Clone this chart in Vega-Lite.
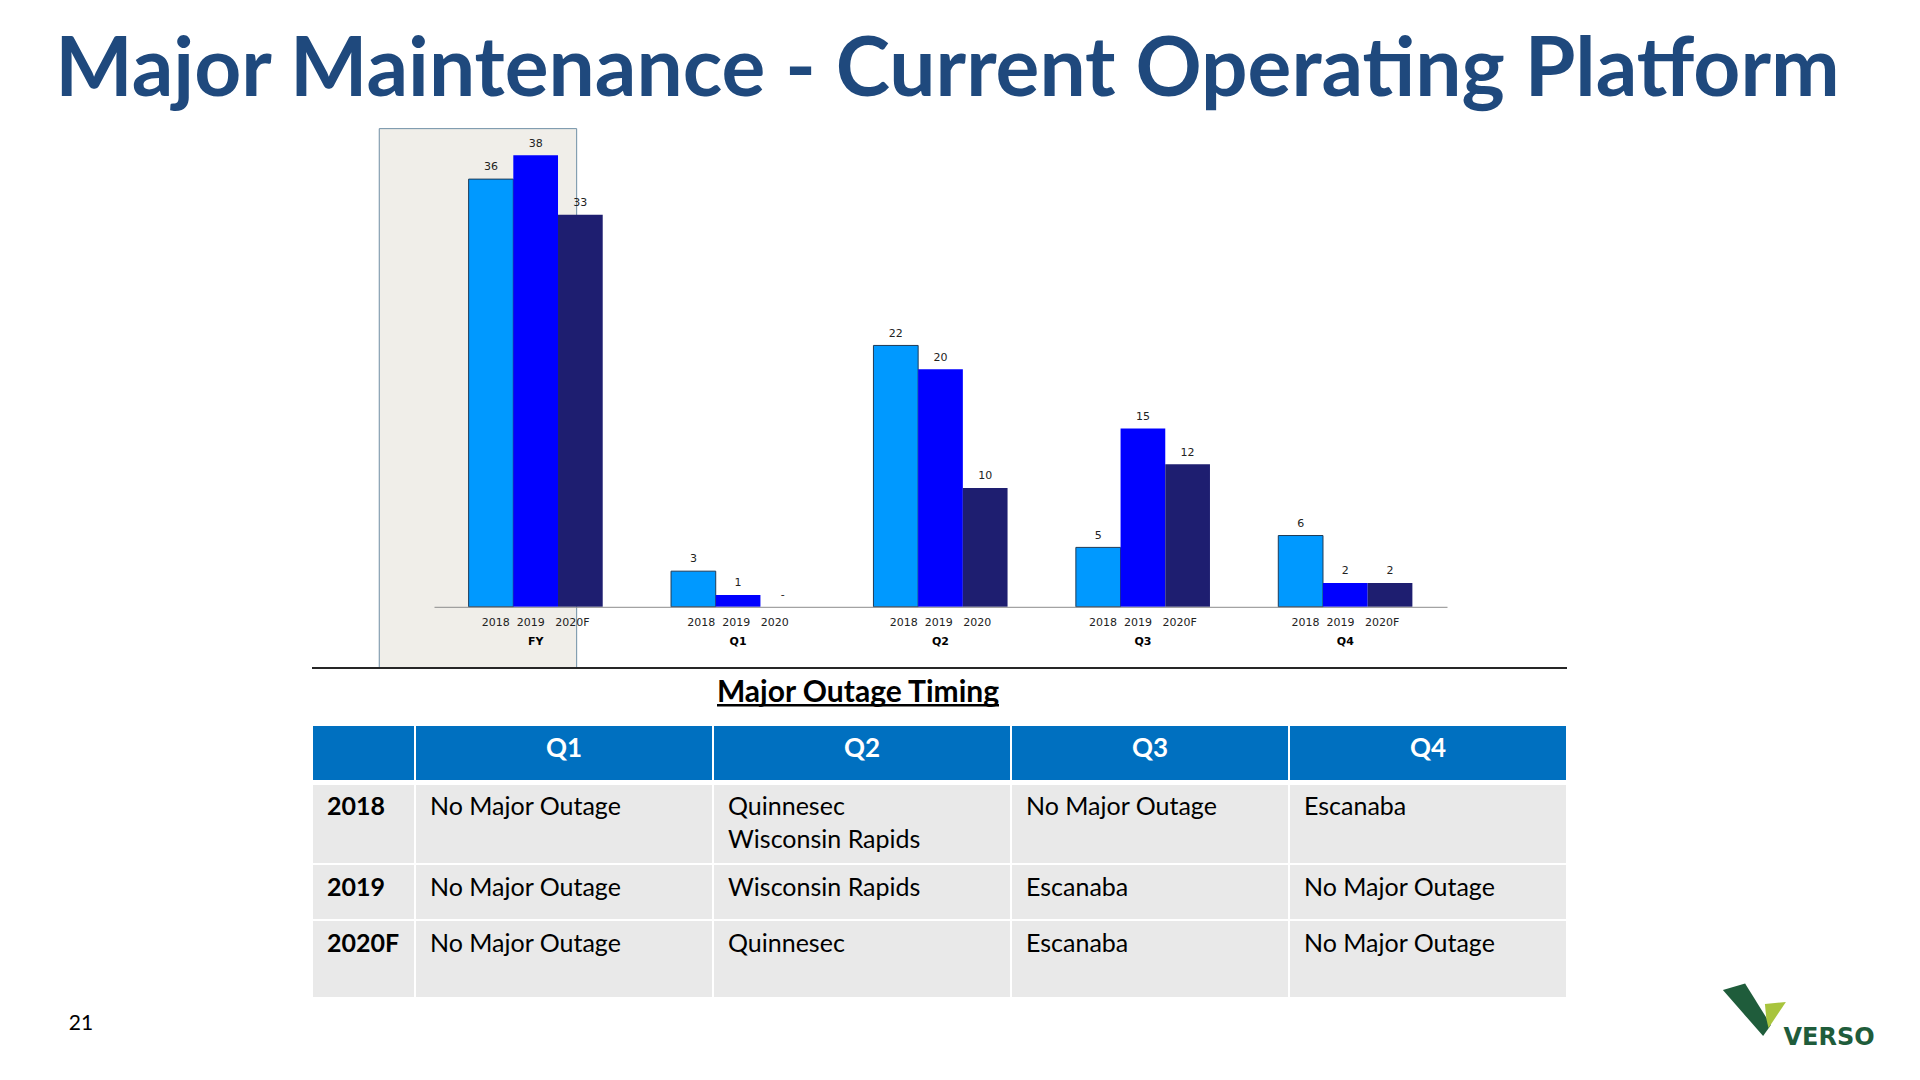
{
  "$schema": "https://vega.github.io/schema/vega-lite/v6.json",
  "width": 1920,
  "height": 1080,
  "autosize": "none",
  "padding": 0,
  "background": "#ffffff",
  "config": {"view": {"stroke": null}, "axis": {"grid": false}},
  "datasets": {
    "bars": [
      {"period": "FY", "series": "2018", "value": 36},
      {"period": "FY", "series": "2019", "value": 38},
      {"period": "FY", "series": "2020F", "value": 33},
      {"period": "Q1", "series": "2018", "value": 3},
      {"period": "Q1", "series": "2019", "value": 1},
      {"period": "Q1", "series": "2020F", "value": 0},
      {"period": "Q2", "series": "2018", "value": 22},
      {"period": "Q2", "series": "2019", "value": 20},
      {"period": "Q2", "series": "2020F", "value": 10},
      {"period": "Q3", "series": "2018", "value": 5},
      {"period": "Q3", "series": "2019", "value": 15},
      {"period": "Q3", "series": "2020F", "value": 12},
      {"period": "Q4", "series": "2018", "value": 6},
      {"period": "Q4", "series": "2019", "value": 2},
      {"period": "Q4", "series": "2020F", "value": 2}
    ],
    "periods": [
      {"period": "FY", "years": "2018\u00a0\u00a02019\u00a0\u00a0\u00a02020F"},
      {"period": "Q1", "years": "2018\u00a0\u00a02019\u00a0\u00a0\u00a02020"},
      {"period": "Q2", "years": "2018\u00a0\u00a02019\u00a0\u00a0\u00a02020"},
      {"period": "Q3", "years": "2018\u00a0\u00a02019\u00a0\u00a0\u00a02020F"},
      {"period": "Q4", "years": "2018\u00a0\u00a02019\u00a0\u00a0\u00a02020F"}
    ],
    "table": [
      {"row": "Header", "col": "Year", "text": ""},
      {"row": "Header", "col": "Q1", "text": "Q1"},
      {"row": "Header", "col": "Q2", "text": "Q2"},
      {"row": "Header", "col": "Q3", "text": "Q3"},
      {"row": "Header", "col": "Q4", "text": "Q4"},
      {"row": "2018", "col": "Year", "text": "2018"},
      {"row": "2018", "col": "Q1", "text": "No Major Outage"},
      {"row": "2018", "col": "Q2", "text": "Quinnesec\nWisconsin Rapids"},
      {"row": "2018", "col": "Q3", "text": "No Major Outage"},
      {"row": "2018", "col": "Q4", "text": "Escanaba"},
      {"row": "2019", "col": "Year", "text": "2019"},
      {"row": "2019", "col": "Q1", "text": "No Major Outage"},
      {"row": "2019", "col": "Q2", "text": "Wisconsin Rapids"},
      {"row": "2019", "col": "Q3", "text": "Escanaba"},
      {"row": "2019", "col": "Q4", "text": "No Major Outage"},
      {"row": "2020F", "col": "Year", "text": "2020F"},
      {"row": "2020F", "col": "Q1", "text": "No Major Outage"},
      {"row": "2020F", "col": "Q2", "text": "Quinnesec"},
      {"row": "2020F", "col": "Q3", "text": "Escanaba"},
      {"row": "2020F", "col": "Q4", "text": "No Major Outage"}
    ]
  },
  "layer": [
    {
      "data": {"values": [{"title": "Major Maintenance - Current Operating Platform"}]},
      "mark": {"type": "text", "font": "Lato", "fontWeight": "bold", "fontSize": 82, "fill": "#1F497D", "baseline": "alphabetic", "align": "center"},
      "encoding": {
        "x": {"field": "title", "type": "nominal", "scale": {"type": "band", "range": [0, 1895], "paddingInner": 0, "paddingOuter": 0}, "axis": null},
        "y": {"field": "title", "type": "nominal", "scale": {"type": "band", "range": [91, 101], "paddingInner": 0, "paddingOuter": 0}, "axis": null},
        "text": {"field": "title"}
      }
    },
    {
      "data": {"name": "bars"},
      "encoding": {
        "x": {
          "field": "period", "type": "nominal", "sort": ["FY", "Q1", "Q2", "Q3", "Q4"],
          "scale": {"type": "band", "range": [434, 1447], "paddingInner": 0.3375, "paddingOuter": 0.171},
          "axis": {"orient": "bottom", "offset": -473.2, "zindex": 1, "title": null, "ticks": false, "tickSize": 0, "labelPadding": 29, "labelAngle": 0, "labelFont": "DejaVu Sans", "labelFontWeight": "bold", "labelFontSize": 11, "labelColor": "#000000", "domainColor": "#8C8C8C", "domainWidth": 1}
        }
      },
      "layer": [
        {
          "data": {"values": [{"period": "FY"}]},
          "mark": {"type": "bar", "width": 197.4, "xOffset": -57.7, "fill": "#F0EEE9", "stroke": "#6F8FA5", "strokeWidth": 1},
          "encoding": {
            "y": {"datum": 40.25, "type": "quantitative", "scale": {"domain": [0, 40], "range": [606.8, 131.6]}, "axis": null},
            "y2": {"datum": -5.15}
          }
        },
        {
          "mark": {"type": "bar", "strokeWidth": 1},
          "encoding": {
            "xOffset": {"field": "series", "type": "nominal", "sort": ["2018", "2019", "2020F"], "scale": {"paddingInner": 0, "paddingOuter": 0}},
            "y": {"field": "value", "type": "quantitative", "scale": {"domain": [0, 40], "range": [606.8, 131.6]}, "axis": null},
            "fill": {"field": "series", "type": "nominal", "scale": {"domain": ["2018", "2019", "2020F"], "range": ["#0099FF", "#0000FF", "#1E1E70"]}, "legend": null},
            "stroke": {"condition": {"test": "datum.series === '2018'", "value": "#1F3B57"}, "value": null}
          }
        },
        {
          "transform": [{"calculate": "datum.value === 0 ? '-' : format(datum.value, 'd')", "as": "label"}],
          "mark": {"type": "text", "font": "DejaVu Sans", "fontSize": 11, "fill": "#222222", "baseline": "alphabetic", "dy": -8.7},
          "encoding": {
            "xOffset": {"field": "series", "type": "nominal", "sort": ["2018", "2019", "2020F"], "scale": {"paddingInner": 0, "paddingOuter": 0}},
            "y": {"field": "value", "type": "quantitative", "scale": {"domain": [0, 40], "range": [606.8, 131.6]}, "axis": null},
            "text": {"field": "label"}
          }
        },
        {
          "data": {"name": "periods"},
          "mark": {"type": "text", "font": "DejaVu Sans", "fontSize": 11, "fill": "#222222", "baseline": "middle", "dy": 16},
          "encoding": {
            "y": {"datum": 0, "type": "quantitative", "scale": {"domain": [0, 40], "range": [606.8, 131.6]}, "axis": null},
            "text": {"field": "years"}
          }
        }
      ]
    },
    {
      "data": {"values": [{"section": "Major Outage Timing"}]},
      "mark": {"type": "rect", "fill": "#262626"},
      "encoding": {
        "x": {"field": "section", "type": "nominal", "scale": {"type": "band", "range": [312, 1567], "paddingInner": 0, "paddingOuter": 0}, "axis": null},
        "y": {"field": "section", "type": "nominal", "scale": {"type": "band", "range": [667, 669], "paddingInner": 0, "paddingOuter": 0}, "axis": null}
      }
    },
    {
      "data": {"values": [{"section": "Major Outage Timing"}]},
      "encoding": {
        "x": {"field": "section", "type": "nominal", "scale": {"type": "band", "range": [717, 999], "paddingInner": 0, "paddingOuter": 0}, "axis": null},
        "y": {"field": "section", "type": "nominal", "scale": {"type": "band", "range": [704, 706.5], "paddingInner": 0, "paddingOuter": 0}, "axis": null}
      },
      "layer": [
        {"mark": {"type": "rect", "fill": "#000000"}},
        {"mark": {"type": "text", "font": "Lato", "fontWeight": "bold", "fontSize": 30, "fill": "#000000", "baseline": "alphabetic", "dy": -3.5}, "encoding": {"text": {"field": "section"}}}
      ]
    },
    {
      "data": {"name": "table"},
      "transform": [{"filter": "datum.col === 'Year'"}],
      "encoding": {
        "x": {"field": "col", "type": "nominal", "scale": {"type": "band", "range": [312, 415], "paddingInner": 0, "paddingOuter": 0}, "axis": null}
      },
      "layer": [
        {
          "transform": [{"filter": "datum.row === 'Header'"}],
          "encoding": {"y": {"field": "row", "type": "nominal", "scale": {"type": "band", "range": [725, 781], "paddingInner": 0, "paddingOuter": 0}, "axis": null}},
          "mark": {"type": "rect", "fill": "#0070C0", "stroke": "#FFFFFF", "strokeWidth": 2}
        },
        {
          "transform": [{"filter": "datum.row === '2018'"}],
          "encoding": {"y": {"field": "row", "type": "nominal", "scale": {"type": "band", "range": [784, 864], "paddingInner": 0, "paddingOuter": 0}, "axis": null}},
          "layer": [
            {"mark": {"type": "rect", "fill": "#E9E9E9", "stroke": "#FFFFFF", "strokeWidth": 2}},
            {"mark": {"type": "text", "font": "Lato", "fontWeight": "bold", "fontSize": 25, "fill": "#000000", "align": "left", "baseline": "alphabetic", "dx": 15, "dy": 31},
             "encoding": {"x": {"field": "col", "type": "nominal", "bandPosition": 0}, "y": {"field": "row", "type": "nominal", "bandPosition": 0}, "text": {"field": "text"}}}
          ]
        },
        {
          "transform": [{"filter": "datum.row === '2019'"}],
          "encoding": {"y": {"field": "row", "type": "nominal", "scale": {"type": "band", "range": [864, 920], "paddingInner": 0, "paddingOuter": 0}, "axis": null}},
          "layer": [
            {"mark": {"type": "rect", "fill": "#E9E9E9", "stroke": "#FFFFFF", "strokeWidth": 2}},
            {"mark": {"type": "text", "font": "Lato", "fontWeight": "bold", "fontSize": 25, "fill": "#000000", "align": "left", "baseline": "alphabetic", "dx": 15, "dy": 32},
             "encoding": {"x": {"field": "col", "type": "nominal", "bandPosition": 0}, "y": {"field": "row", "type": "nominal", "bandPosition": 0}, "text": {"field": "text"}}}
          ]
        },
        {
          "transform": [{"filter": "datum.row === '2020F'"}],
          "encoding": {"y": {"field": "row", "type": "nominal", "scale": {"type": "band", "range": [920, 998], "paddingInner": 0, "paddingOuter": 0}, "axis": null}},
          "layer": [
            {"mark": {"type": "rect", "fill": "#E9E9E9", "stroke": "#FFFFFF", "strokeWidth": 2}},
            {"mark": {"type": "text", "font": "Lato", "fontWeight": "bold", "fontSize": 25, "fill": "#000000", "align": "left", "baseline": "alphabetic", "dx": 15, "dy": 32},
             "encoding": {"x": {"field": "col", "type": "nominal", "bandPosition": 0}, "y": {"field": "row", "type": "nominal", "bandPosition": 0}, "text": {"field": "text"}}}
          ]
        }
      ],
      "resolve": {"scale": {"y": "independent"}}
    },
    {
      "data": {"name": "table"},
      "transform": [{"filter": "datum.col === 'Q1' || datum.col === 'Q2'"}],
      "encoding": {
        "x": {"field": "col", "type": "nominal", "sort": ["Q1", "Q2"], "scale": {"type": "band", "range": [415, 1011], "paddingInner": 0, "paddingOuter": 0}, "axis": null}
      },
      "layer": [
        {
          "transform": [{"filter": "datum.row === 'Header'"}],
          "encoding": {"y": {"field": "row", "type": "nominal", "scale": {"type": "band", "range": [725, 781], "paddingInner": 0, "paddingOuter": 0}, "axis": null}},
          "layer": [
            {"mark": {"type": "rect", "fill": "#0070C0", "stroke": "#FFFFFF", "strokeWidth": 2}},
            {"mark": {"type": "text", "font": "Lato", "fontWeight": "bold", "fontSize": 26, "fill": "#FFFFFF", "baseline": "alphabetic", "dy": 4.4}, "encoding": {"text": {"field": "text"}}}
          ]
        },
        {
          "transform": [{"filter": "datum.row === '2018'"}],
          "encoding": {"y": {"field": "row", "type": "nominal", "scale": {"type": "band", "range": [784, 864], "paddingInner": 0, "paddingOuter": 0}, "axis": null}},
          "layer": [
            {"mark": {"type": "rect", "fill": "#E9E9E9", "stroke": "#FFFFFF", "strokeWidth": 2}},
            {"mark": {"type": "text", "font": "Lato", "fontSize": 25, "fill": "#000000", "align": "left", "baseline": "alphabetic", "dx": 15, "dy": 31, "lineBreak": "\n", "lineHeight": 33},
             "encoding": {"x": {"field": "col", "type": "nominal", "sort": ["Q1", "Q2"], "bandPosition": 0}, "y": {"field": "row", "type": "nominal", "bandPosition": 0}, "text": {"field": "text"}}}
          ]
        },
        {
          "transform": [{"filter": "datum.row === '2019'"}],
          "encoding": {"y": {"field": "row", "type": "nominal", "scale": {"type": "band", "range": [864, 920], "paddingInner": 0, "paddingOuter": 0}, "axis": null}},
          "layer": [
            {"mark": {"type": "rect", "fill": "#E9E9E9", "stroke": "#FFFFFF", "strokeWidth": 2}},
            {"mark": {"type": "text", "font": "Lato", "fontSize": 25, "fill": "#000000", "align": "left", "baseline": "alphabetic", "dx": 15, "dy": 32},
             "encoding": {"x": {"field": "col", "type": "nominal", "sort": ["Q1", "Q2"], "bandPosition": 0}, "y": {"field": "row", "type": "nominal", "bandPosition": 0}, "text": {"field": "text"}}}
          ]
        },
        {
          "transform": [{"filter": "datum.row === '2020F'"}],
          "encoding": {"y": {"field": "row", "type": "nominal", "scale": {"type": "band", "range": [920, 998], "paddingInner": 0, "paddingOuter": 0}, "axis": null}},
          "layer": [
            {"mark": {"type": "rect", "fill": "#E9E9E9", "stroke": "#FFFFFF", "strokeWidth": 2}},
            {"mark": {"type": "text", "font": "Lato", "fontSize": 25, "fill": "#000000", "align": "left", "baseline": "alphabetic", "dx": 15, "dy": 32},
             "encoding": {"x": {"field": "col", "type": "nominal", "sort": ["Q1", "Q2"], "bandPosition": 0}, "y": {"field": "row", "type": "nominal", "bandPosition": 0}, "text": {"field": "text"}}}
          ]
        }
      ],
      "resolve": {"scale": {"y": "independent"}}
    },
    {
      "data": {"name": "table"},
      "transform": [{"filter": "datum.col === 'Q3' || datum.col === 'Q4'"}],
      "encoding": {
        "x": {"field": "col", "type": "nominal", "sort": ["Q3", "Q4"], "scale": {"type": "band", "range": [1011, 1567], "paddingInner": 0, "paddingOuter": 0}, "axis": null}
      },
      "layer": [
        {
          "transform": [{"filter": "datum.row === 'Header'"}],
          "encoding": {"y": {"field": "row", "type": "nominal", "scale": {"type": "band", "range": [725, 781], "paddingInner": 0, "paddingOuter": 0}, "axis": null}},
          "layer": [
            {"mark": {"type": "rect", "fill": "#0070C0", "stroke": "#FFFFFF", "strokeWidth": 2}},
            {"mark": {"type": "text", "font": "Lato", "fontWeight": "bold", "fontSize": 26, "fill": "#FFFFFF", "baseline": "alphabetic", "dy": 4.4}, "encoding": {"text": {"field": "text"}}}
          ]
        },
        {
          "transform": [{"filter": "datum.row === '2018'"}],
          "encoding": {"y": {"field": "row", "type": "nominal", "scale": {"type": "band", "range": [784, 864], "paddingInner": 0, "paddingOuter": 0}, "axis": null}},
          "layer": [
            {"mark": {"type": "rect", "fill": "#E9E9E9", "stroke": "#FFFFFF", "strokeWidth": 2}},
            {"mark": {"type": "text", "font": "Lato", "fontSize": 25, "fill": "#000000", "align": "left", "baseline": "alphabetic", "dx": 15, "dy": 31},
             "encoding": {"x": {"field": "col", "type": "nominal", "sort": ["Q3", "Q4"], "bandPosition": 0}, "y": {"field": "row", "type": "nominal", "bandPosition": 0}, "text": {"field": "text"}}}
          ]
        },
        {
          "transform": [{"filter": "datum.row === '2019'"}],
          "encoding": {"y": {"field": "row", "type": "nominal", "scale": {"type": "band", "range": [864, 920], "paddingInner": 0, "paddingOuter": 0}, "axis": null}},
          "layer": [
            {"mark": {"type": "rect", "fill": "#E9E9E9", "stroke": "#FFFFFF", "strokeWidth": 2}},
            {"mark": {"type": "text", "font": "Lato", "fontSize": 25, "fill": "#000000", "align": "left", "baseline": "alphabetic", "dx": 15, "dy": 32},
             "encoding": {"x": {"field": "col", "type": "nominal", "sort": ["Q3", "Q4"], "bandPosition": 0}, "y": {"field": "row", "type": "nominal", "bandPosition": 0}, "text": {"field": "text"}}}
          ]
        },
        {
          "transform": [{"filter": "datum.row === '2020F'"}],
          "encoding": {"y": {"field": "row", "type": "nominal", "scale": {"type": "band", "range": [920, 998], "paddingInner": 0, "paddingOuter": 0}, "axis": null}},
          "layer": [
            {"mark": {"type": "rect", "fill": "#E9E9E9", "stroke": "#FFFFFF", "strokeWidth": 2}},
            {"mark": {"type": "text", "font": "Lato", "fontSize": 25, "fill": "#000000", "align": "left", "baseline": "alphabetic", "dx": 15, "dy": 32},
             "encoding": {"x": {"field": "col", "type": "nominal", "sort": ["Q3", "Q4"], "bandPosition": 0}, "y": {"field": "row", "type": "nominal", "bandPosition": 0}, "text": {"field": "text"}}}
          ]
        }
      ],
      "resolve": {"scale": {"y": "independent"}}
    },
    {
      "data": {"values": [{"page": "21"}]},
      "mark": {"type": "text", "font": "Lato", "fontSize": 21, "fill": "#000000", "baseline": "alphabetic"},
      "encoding": {
        "x": {"field": "page", "type": "nominal", "scale": {"type": "band", "range": [70, 92], "paddingInner": 0, "paddingOuter": 0}, "axis": null},
        "y": {"field": "page", "type": "nominal", "scale": {"type": "band", "range": [1025, 1035], "paddingInner": 0, "paddingOuter": 0}, "axis": null},
        "text": {"field": "page"}
      }
    },
    {
      "data": {"values": [{"brand": "VERSO", "part": "Dark"}, {"brand": "VERSO", "part": "Lime"}]},
      "encoding": {
        "x": {"field": "brand", "type": "nominal", "scale": {"type": "band", "range": [1725, 1785], "paddingInner": 0, "paddingOuter": 0}, "axis": null},
        "y": {"field": "brand", "type": "nominal", "scale": {"type": "band", "range": [1005, 1015], "paddingInner": 0, "paddingOuter": 0}, "axis": null}
      },
      "layer": [
        {
          "mark": {"type": "point", "filled": true, "size": 3600, "opacity": 1, "strokeWidth": 0},
          "encoding": {
            "shape": {"field": "part", "type": "nominal", "scale": {"domain": ["Dark", "Lime"], "range": ["M -1.07 -0.67 L -0.33 -0.88 L 0.53 0.5 L 0.27 0.87 Z", "M 0.33 -0.2 L 1.03 -0.27 L 0.45 0.6 L 0.38 0.3 Z"]}, "legend": null},
            "color": {"field": "part", "type": "nominal", "scale": {"domain": ["Dark", "Lime"], "range": ["#1F5C3B", "#A8C43D"]}, "legend": null}
          }
        },
        {
          "transform": [{"filter": "datum.part === 'Dark'"}],
          "mark": {"type": "text", "font": "DejaVu Sans", "fontWeight": "bold", "fontSize": 24, "fill": "#1F5C3B", "baseline": "alphabetic", "dx": 74, "dy": 35},
          "encoding": {"text": {"field": "brand"}}
        }
      ]
    }
  ],
  "resolve": {
    "scale": {"x": "independent", "y": "independent", "fill": "independent", "color": "independent", "shape": "independent", "stroke": "independent"},
    "axis": {"x": "independent", "y": "independent"}
  }
}
